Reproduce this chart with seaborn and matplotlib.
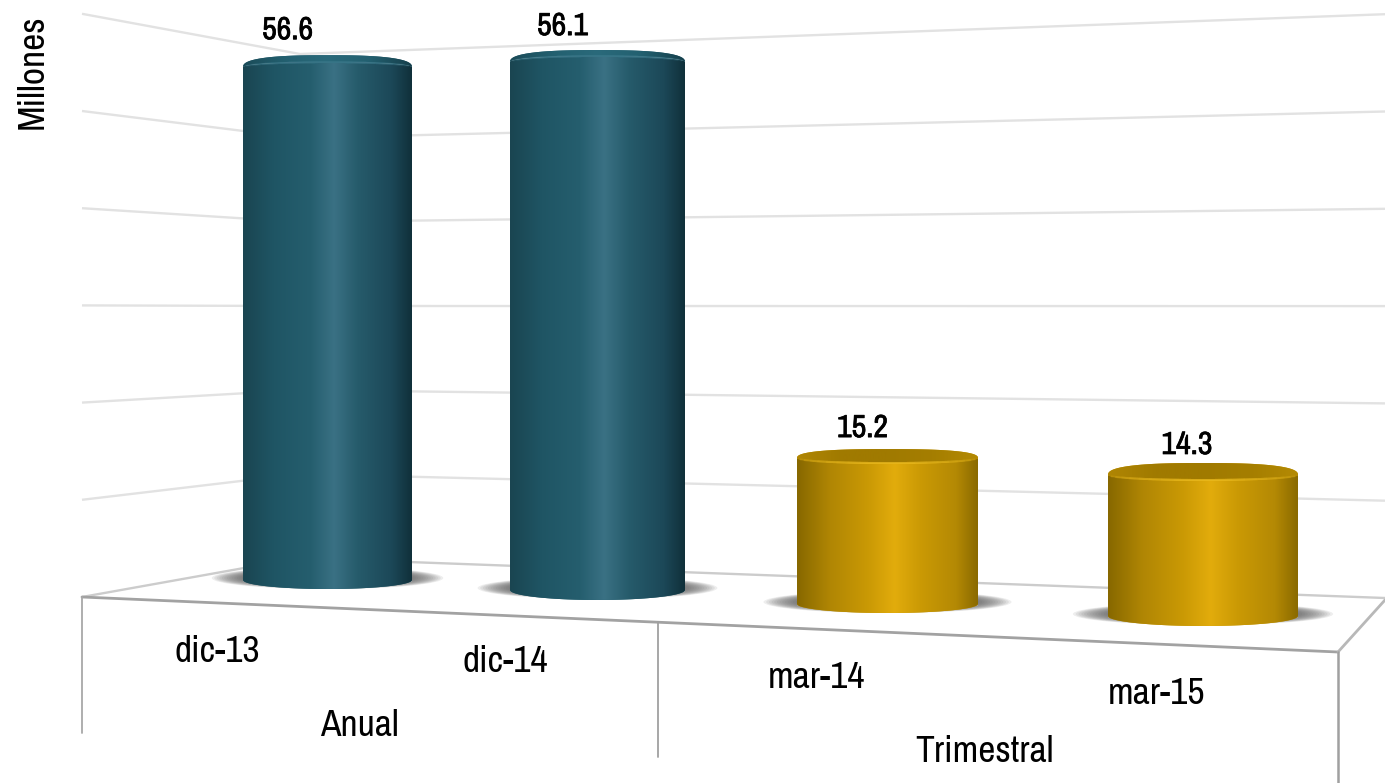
import matplotlib
matplotlib.use("Agg")
import matplotlib.patheffects as pe
import matplotlib.pyplot as plt
import numpy as np
import seaborn as sns
from matplotlib import font_manager
from matplotlib.colors import LinearSegmentedColormap
from matplotlib.patches import Ellipse, Polygon

# data
GROUPS = ["Anual", "Trimestral"]
PERIODS = ["dic-13", "dic-14", "mar-14", "mar-15"]
VALUES = [56.6, 56.1, 15.2, 14.3]
WALL_TICKS = [0, 10, 20, 30, 40, 50, 60]
AXIS_LABEL = "Millones"

# perspective of each bar, in pixels of the 1385x783 picture
BAR_LEFT = [243, 510, 797, 1108]
BAR_RIGHT = [412, 685, 978, 1298]
BAR_BASE = [580, 590, 604, 616]
BAR_SCALE = [9.06, 9.41, 9.6, 9.86]
BAR_FOOT = [9, 10, 9, 10]
CAP_UP = [12, 12, 9, 12]
CAP_DOWN = [-5, -6, 5, 5]
LABEL_DX = [-40, -35, -25, -16]
LABEL_DY = [37, 36, 30, 30]
TICK_POS = [(217, 651), (505, 662), (816, 677), (1157, 693)]
GROUP_POS = [(359, 725), (984, 752)]

TEAL = ["#1a4551", "#1f5564", "#255e6e", "#3a7184", "#265b6b", "#1c4858", "#10303a"]
GOLD = ["#876800", "#b08604", "#cb9a05", "#e2ac0c", "#cb9a05", "#b48904", "#8a6a00"]
STOPS = [0, 0.18, 0.4, 0.54, 0.68, 0.88, 1]
TEAL_CAP = ["#1b4b58", "#236070", "#2a6a7b", "#236070", "#163f4b"]
GOLD_CAP = ["#b08604", "#a07a00", "#a07a00", "#a57e00", "#b48a04"]
BAR_COLORS = ["#255e6e", "#255e6e", "#cb9a05", "#cb9a05"]

W, H = 1385, 783
Y_TOP = 61
Y_LOW = -3

sns.set_theme(style="white")
installed = {f.name for f in font_manager.fontManager.ttflist}
narrow = [n for n in ["Liberation Sans Narrow", "Archivo Narrow", "Roboto Condensed"] if n in installed]
plt.rcParams["font.family"] = narrow[:1] + ["Liberation Sans", "DejaVu Sans"]


def wall_y(x, v):
    # the back walls meet in a corner, so a level is two straight pieces
    if x <= 300:
        f = (x - 82) / (300 - 82)
        return (597 - 9.72 * v) * (1 - f) + (558 - 8.4 * v) * f
    f = (x - 300) / (1385 - 300)
    return (558 - 8.4 * v) * (1 - f) + (598 - 9.73 * v) * f


def draw_background(ax):
    for v in WALL_TICKS:
        color = "#e2e2e2" if v > 0 else "#cccccc"
        ax.plot([82, 300, 1385], [wall_y(82, v), wall_y(300, v), wall_y(1385, v)],
                color=color, lw=1.7, solid_capstyle="butt")

    ax.plot([82, 1338], [597, 652], color="#a2a2a2", lw=2)
    ax.plot([1338, 1385], [652, 600], color="#b8b8b8", lw=2)
    ax.plot([82, 82], [597, 733], color="#a8a8a8", lw=1.3)
    ax.plot([658, 658], [622, 757], color="#a0a0a0", lw=1.3)
    ax.plot([1338, 1338], [652, 783], color="#a0a0a0", lw=1.8)

    for label, (x, y) in zip(PERIODS, TICK_POS):
        ax.text(x, y, label, fontsize=27, ha="center", va="center", color="black")
    for label, (x, y) in zip(GROUPS, GROUP_POS):
        ax.text(x, y, label, fontsize=27, ha="center", va="center", color="black")
    ax.text(32, 72, AXIS_LABEL, fontsize=27, rotation=90, ha="center", va="center",
            color="black")


def draw_bar(fig, i):
    left, right = BAR_LEFT[i], BAR_RIGHT[i]
    base, scale = BAR_BASE[i], BAR_SCALE[i]
    value = VALUES[i]
    low_px = base - Y_LOW * scale
    ax = fig.add_axes([left / W, 1 - low_px / H, (right - left) / W,
                       (Y_TOP - Y_LOW) * scale / H])
    ax.patch.set_alpha(0)

    sns.barplot(x=[PERIODS[i]], y=[value], color=BAR_COLORS[i], saturation=1,
                width=1, ax=ax)
    bar = ax.patches[0]
    bar.set_zorder(1)

    # shadow on the floor, made soft with stacked ellipses
    for k in np.linspace(1, 0.72, 14):
        ax.add_patch(Ellipse((0, 2 / scale), 1.37 * k, 2 * 11 * k / scale, fc="#5a5a5a", ec="none",
                             alpha=0.1, clip_on=False, zorder=0.5))

    side_cm = LinearSegmentedColormap.from_list(
        "side", list(zip(STOPS, TEAL if i < 2 else GOLD)))
    cap_cm = LinearSegmentedColormap.from_list(
        "cap", TEAL_CAP if i < 2 else GOLD_CAP)
    ramp = np.linspace(0, 1, 256)[None, :]

    # side of the cylinder, the rounded foot hangs below zero
    t = np.linspace(np.pi, 2 * np.pi, 60)
    foot = np.column_stack([0.5 * np.cos(t), BAR_FOOT[i] / scale * np.sin(t)])
    lift = max(0, -CAP_DOWN[i]) / scale
    t_top = np.linspace(0, np.pi, 60)
    head = np.column_stack([0.5 * np.cos(t_top), value + lift * np.sin(t_top)])
    side = np.vstack([foot, head])
    side_patch = ax.add_patch(Polygon(side, fc=BAR_COLORS[i], ec="none", zorder=2))
    img = ax.imshow(ramp, cmap=side_cm, extent=(-0.5, 0.5, Y_LOW, Y_TOP), aspect="auto", zorder=2.1)
    img.set_clip_path(side_patch)

    # top of the cylinder
    t = np.linspace(0, 2 * np.pi, 160)
    cx = 0.5 * np.sign(np.cos(t)) * np.abs(np.cos(t)) ** 0.75
    sn = np.sign(np.sin(t)) * np.abs(np.sin(t)) ** 0.8
    cy = np.where(sn >= 0, CAP_UP[i] * sn, CAP_DOWN[i] * np.sin(t)) / scale
    cap_patch = ax.add_patch(Polygon(np.column_stack([cx, value + cy]), fc=BAR_COLORS[i],
                                     ec="none", zorder=3))
    cap = ax.imshow(ramp, cmap=cap_cm, extent=(-0.5, 0.5, Y_LOW, Y_TOP), aspect="auto", zorder=3.1)
    cap.set_clip_path(cap_patch)

    # light rim where the top meets the side, fading out from the middle
    rim = "#edbd22" if i >= 2 else "#3d7a8c"
    for spread in np.linspace(0.42, 0.1, 8):
        t = np.linspace(np.pi * (1.5 - spread), np.pi * (1.5 + spread), 40)
        ax.plot(0.5 * np.cos(t), value + CAP_DOWN[i] * np.sin(t) / scale, color=rim, lw=1.5,
                alpha=0.16, zorder=3.2, solid_capstyle="butt")

    label = ax.annotate(f"{value:.1f}", (0, value), xytext=(LABEL_DX[i], LABEL_DY[i]),
                        textcoords="offset pixels", ha="center", va="center", fontsize=23,
                        color="black", annotation_clip=False, zorder=5)
    # the narrow font has no bold cut here, a thin stroke gives the same weight
    label.set_path_effects([pe.withStroke(linewidth=0.5, foreground="black")])

    ax.set_xlim(-0.5, 0.5)
    ax.set_ylim(Y_LOW, Y_TOP)
    ax.axis("off")


def main():
    fig = plt.figure(figsize=(W / 100, H / 100), dpi=100, facecolor="white")
    back = fig.add_axes([0, 0, 1, 1])
    back.set_xlim(0, W)
    back.set_ylim(H, 0)
    back.axis("off")
    draw_background(back)

    for i in range(len(VALUES)):
        draw_bar(fig, i)

    fig.savefig("out.png", dpi=100)


main()
